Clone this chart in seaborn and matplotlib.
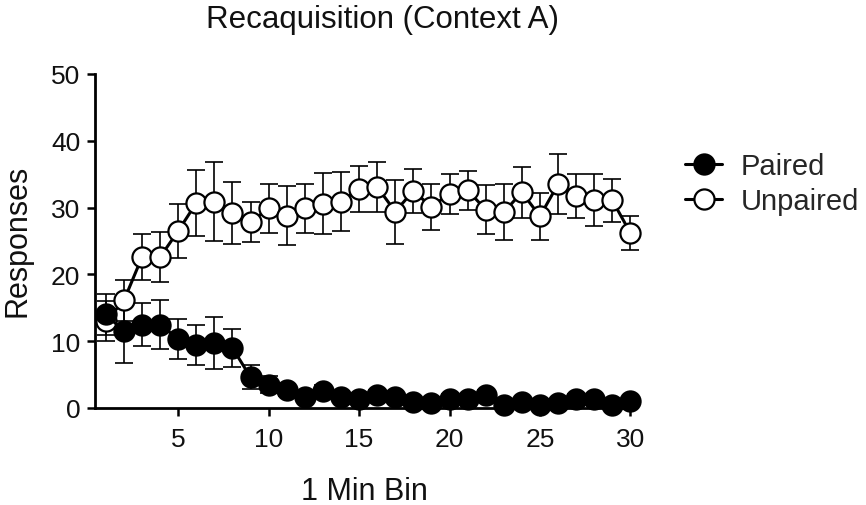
import pandas as pd
import seaborn as sns
import matplotlib.pyplot as plt

bins = list(range(1, 31))
paired = [14.0, 11.5, 12.5, 12.5, 10.3, 9.5, 9.7, 9.0, 4.6, 3.5,
          2.7, 1.7, 2.6, 1.7, 1.3, 1.9, 1.7, 0.9, 0.7, 1.4,
          1.3, 1.9, 0.5, 0.9, 0.5, 0.7, 1.4, 1.3, 0.5, 1.1]
paired_sem = [3.0, 4.7, 3.2, 3.7, 3.0, 3.0, 3.9, 2.8, 1.8, 1.3,
              0.9, 0.8, 0.9, 0.8, 0.7, 0.8, 0.7, 0.6, 0.6, 0.7,
              0.7, 0.8, 0.5, 0.6, 0.5, 0.6, 0.7, 0.7, 0.5, 0.6]
unpaired = [13.0, 16.1, 22.6, 22.6, 26.5, 30.7, 30.9, 29.2, 27.8, 29.9,
            28.8, 29.9, 30.6, 30.9, 32.8, 33.1, 29.4, 32.5, 30.1, 32.1,
            32.6, 29.7, 29.3, 32.3, 28.7, 33.5, 31.8, 31.2, 31.1, 26.2]
unpaired_sem = [3.0, 3.1, 3.5, 3.7, 4.1, 4.9, 5.9, 4.7, 3.0, 3.7,
                4.4, 3.7, 4.6, 4.4, 3.4, 3.7, 4.8, 3.3, 3.5, 3.0,
                2.9, 3.7, 4.2, 3.8, 3.5, 4.5, 3.3, 3.9, 3.2, 2.5]

df_p = pd.DataFrame({'bin': bins, 'resp': paired, 'sem': paired_sem})
df_u = pd.DataFrame({'bin': bins, 'resp': unpaired, 'sem': unpaired_sem})

sns.set_style('ticks')
plt.rcParams['font.family'] = ['Liberation Sans', 'DejaVu Sans']

fig = plt.figure(figsize=(8.66, 5.06), dpi=100)
ax = fig.add_axes([95/866, 1-409/506, 539/866, 334/506])

# error bars behind the markers
ax.errorbar(df_u['bin'], df_u['resp'], yerr=df_u['sem'], fmt='none', ecolor='black',
            elinewidth=1.2, capsize=6.8, capthick=1.2, zorder=1, clip_on=False)
ax.errorbar(df_p['bin'], df_p['resp'], yerr=df_p['sem'], fmt='none', ecolor='black',
            elinewidth=1.2, capsize=6.8, capthick=1.2, zorder=1, clip_on=False)

sns.lineplot(data=df_u, x='bin', y='resp', color='black', marker='o', markersize=14.5,
             markerfacecolor='white', markeredgecolor='black', markeredgewidth=1.6,
             linewidth=2.2, label='Unpaired', ax=ax, zorder=3, clip_on=False)
sns.lineplot(data=df_p, x='bin', y='resp', color='black', marker='o', markersize=14.5,
             markerfacecolor='black', markeredgecolor='black', markeredgewidth=1.6,
             linewidth=2.2, label='Paired', ax=ax, zorder=4, clip_on=False)

ax.set_xlim(0.4, 30.2)
ax.set_ylim(0, 50)
ax.set_xticks([5, 10, 15, 20, 25, 30])
ax.set_yticks([0, 10, 20, 30, 40, 50])
ax.tick_params(axis='both', labelsize=19, width=1.8, length=5.5, color='black', labelcolor='#111111')
ax.tick_params(axis='x', pad=8)
ax.tick_params(axis='y', pad=5)
for s in ['left', 'bottom']:
    ax.spines[s].set_linewidth(2)
    ax.spines[s].set_color('black')
sns.despine(ax=ax)

ax.set_xlabel('')
ax.set_ylabel('')
fig.text(364/866, 1-500/506, '1 Min Bin', ha='center', va='baseline',
         fontsize=22, color='#111111')
fig.text(18/866, 1-241/506, 'Responses', rotation=90, ha='center', va='center',
         fontsize=22, color='#111111')
fig.text(382/866, 1-28/506, 'Recaquisition (Context A)', ha='center', va='baseline',
         fontsize=22.5, color='#111111')

handles, labels = ax.get_legend_handles_labels()
order = [labels.index('Paired'), labels.index('Unpaired')]
ax.legend([handles[i] for i in order], [labels[i] for i in order],
          loc='upper left', bbox_to_anchor=(685/866, 1-153/506), bbox_transform=fig.transFigure,
          frameon=False, fontsize=21, handlelength=1.27, handletextpad=0.65,
          labelspacing=0.25, borderpad=0, borderaxespad=0, markerscale=1.0)

fig.savefig('out.png', dpi=100)
